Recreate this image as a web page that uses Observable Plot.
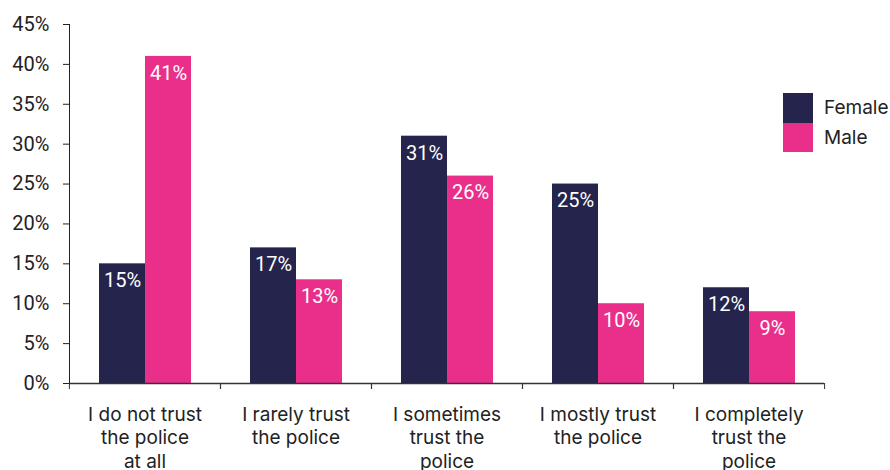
<!DOCTYPE html>
<html><head><meta charset="utf-8">
<script src="https://cdn.jsdelivr.net/npm/d3@7"></script>
<script src="https://cdn.jsdelivr.net/npm/@observablehq/plot@0.6"></script>
<style>
body{margin:0;background:#fff}
#wrap{position:relative;width:890px;height:470px;overflow:hidden}
#wrap svg [aria-label="y-axis tick label"]{font-family:Roboto,sans-serif;font-size:20px;fill:#222}
.legend{position:absolute;left:783px;top:93px;font-family:Inter,sans-serif;font-size:19px;color:#222}
.legend .row{display:flex;align-items:center;height:29.5px}
.legend .sw{width:30px;height:29.5px;margin-right:11px}
</style></head><body><div id="wrap"></div>
<script>
const categories = ["I do not trust the police at all","I rarely trust the police","I sometimes trust the police","I mostly trust the police","I completely trust the police"];
const categoryLabels = ["I do not trust\nthe police\nat all","I rarely trust\nthe police","I sometimes\ntrust the\npolice","I mostly trust\nthe police","I completely\ntrust the\npolice"];
const genders = ["Female","Male"];
const female = [15,17,31,25,12];
const male = [41,13,26,10,9];
const colors = ["#24244c","#ea2f8b"];
const yTicks = [0,5,10,15,20,25,30,35,40,45];

const data = categories.flatMap((c,i)=>[
  {category:c, gender:"Female", value:female[i]},
  {category:c, gender:"Male", value:male[i]}
]);
const labelOf = c => categoryLabels[categories.indexOf(c)];
const W = 890, ML = 68, MR = 66;
const step = (W-ML-MR)/categories.length;

const chart = Plot.plot({
  width:W, height:470, marginLeft:ML, marginRight:MR, marginTop:24, marginBottom:87,
  style:{fontFamily:"Inter, sans-serif", background:"white", color:"#222"},
  fx:{domain:categories, padding:0, label:null},
  x:{domain:genders, paddingInner:0, paddingOuter:0.625, axis:null},
  y:{domain:[0,45], ticks:yTicks, tickFormat:d=>d+"%", tickSize:6, tickPadding:14, line:true, label:null},
  color:{domain:genders, range:colors},
  marks:[
    Plot.barY(data,{fx:"category", x:"gender", y:"value", fill:"gender"}),
    Plot.text(data,{fx:"category", x:"gender", y:"value", text:d=>d.value+"%", dy:17, fill:"white", fontSize:20, fontFamily:"Roboto, sans-serif"}),
    Plot.ruleY([0],{stroke:"#333", strokeWidth:1.5}),
    Plot.axisFx({anchor:"bottom", tickSize:0, tickPadding:20, tickFormat:labelOf, lineHeight:1.26, fontSize:19, label:null, fill:"#222"}),
    Plot.axisFx({anchor:"bottom", tickSize:6, fill:"none", stroke:"#333", dx:-step/2, label:null}),
    Plot.axisFx([categories[categories.length-1]],{anchor:"bottom", tickSize:6, fill:"none", stroke:"#333", dx:step/2, label:null})
  ]
});
const wrap = document.getElementById("wrap");
wrap.appendChild(chart);
const lg = document.createElement("div");
lg.className = "legend";
genders.forEach((g,i)=>{
  const r = document.createElement("div"); r.className="row";
  const s = document.createElement("div"); s.className="sw"; s.style.background=colors[i];
  const t = document.createElement("span"); t.textContent=g;
  r.appendChild(s); r.appendChild(t); lg.appendChild(r);
});
wrap.appendChild(lg);
</script></body></html>
